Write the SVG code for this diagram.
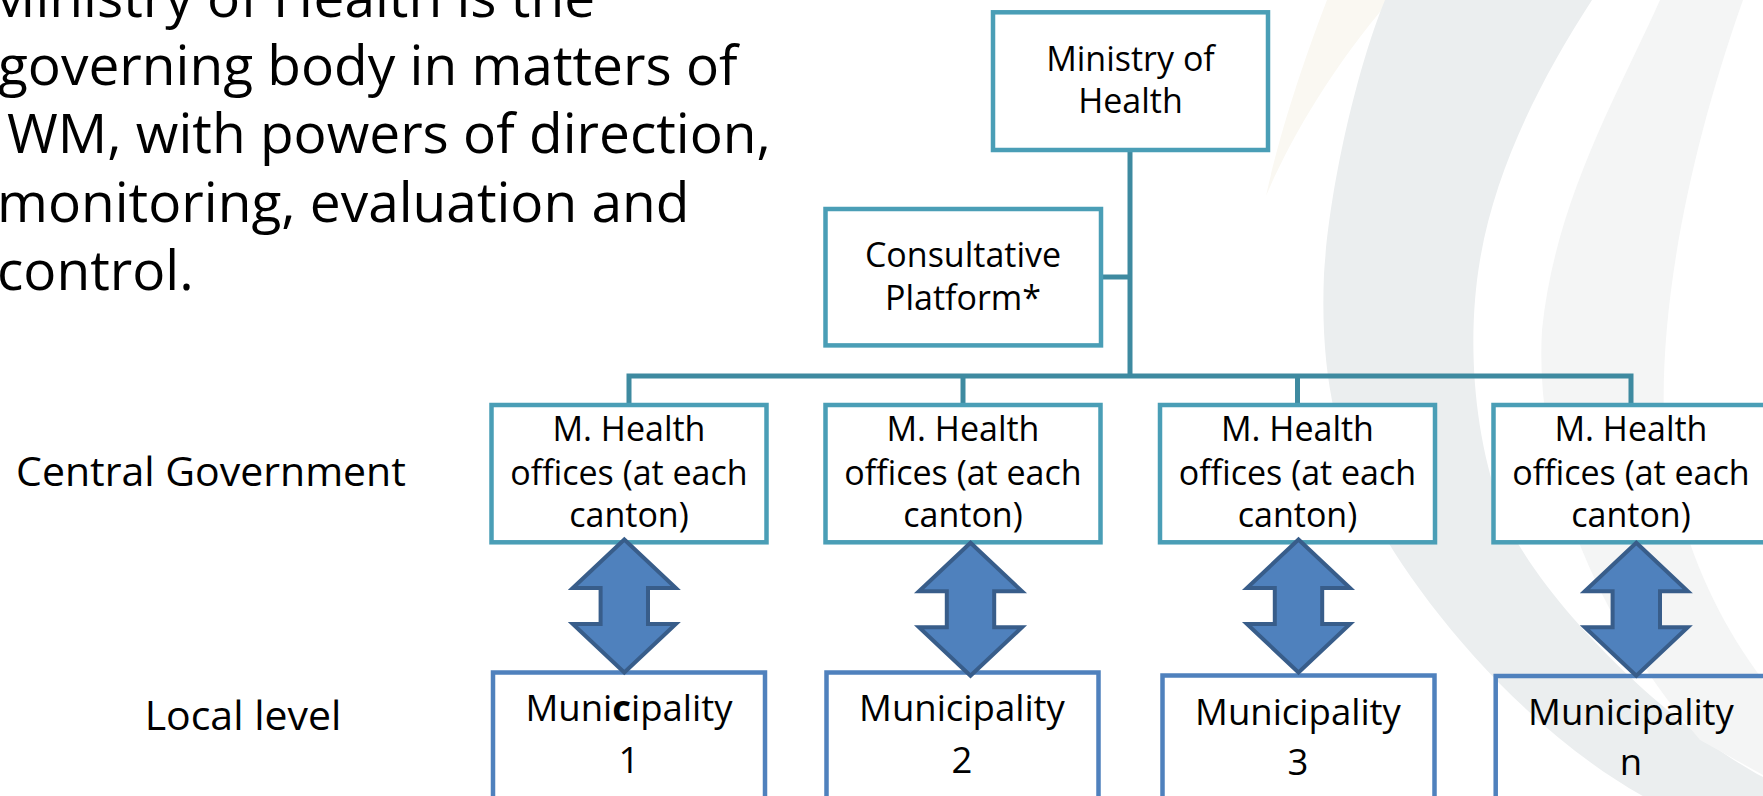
<svg xmlns="http://www.w3.org/2000/svg" width="1763" height="796" viewBox="0 0 1763 796">
<style>
.t{font-family:"Open Sans","Liberation Sans",sans-serif;fill:#000;}
.box{fill:#fff;stroke:#4A9EB6;stroke-width:4.5;}
.mbox{fill:none;stroke:#4F81BD;stroke-width:4.5;}
.conn{fill:none;stroke:#3E8AA0;stroke-width:5;}
.arr{fill:#4F81BD;stroke:#385D8A;stroke-width:4;stroke-linejoin:miter;}
.c34{font-size:34px;text-anchor:middle;}
.c36{font-size:36.5px;text-anchor:middle;}
</style>
<defs>
<path id="dblarrow" d="M0,-66.5 L51.5,-18 L23.7,-18 L23.7,18 L51.5,18 L0,66.5 L-51.5,18 L-23.7,18 L-23.7,-18 L-51.5,-18 Z"/>
</defs>
<rect x="0" y="0" width="1763" height="796" fill="#fff"/>
<g id="background">
<path d="M1327,0 C1300,70 1278,140 1266,196 C1290,140 1330,70 1390,0 Z" fill="#FAF8F2"/>
<path d="M1385,0 C1360,60 1330,180 1324,274 C1320,370 1335,440 1369,508 C1410,590 1520,730 1650,800 L1763,800 L1763,777 C1700,745 1560,630 1505,520 C1470,430 1468,330 1480,260 C1495,170 1540,80 1592,0 Z" fill="#EBEEEF"/>
<path d="M1660,0 C1620,90 1555,200 1542,330 C1535,450 1580,600 1700,740 L1763,775 L1763,680 C1710,610 1672,520 1664,420 C1660,300 1690,150 1743,0 Z" fill="#F4F5F5"/>
</g>
<g id="intro-text" class="t" font-size="55">
<text x="-14" y="16.7">Ministry of Health is the</text>
<text x="-2" y="85">governing body in matters of</text>
<text x="7" y="153.3">WM, with powers of direction,</text>
<text x="-3" y="221.7">monitoring, evaluation and</text>
<text x="-3" y="290">control.</text>
</g>
<g id="level-labels" class="t" font-size="41" text-anchor="middle">
<text x="211" y="486">Central Government</text>
<text x="243" y="730">Local level</text>
</g>
<g id="connectors">
<path class="conn" d="M1130,150 V376"/>
<path class="conn" d="M1101,277 H1130"/>
<path class="conn" d="M629,405 V376 H1631 V405"/>
<path class="conn" d="M963,376 V405"/>
<path class="conn" d="M1297.5,376 V405"/>
</g>
<g id="ministry">
<rect class="box" x="993" y="12.3" width="275" height="137.7"/>
<text class="t c34" x="1130.5" y="70.7">Ministry of</text>
<text class="t c34" x="1130.5" y="113.3">Health</text>
</g>
<g id="consultative">
<rect class="box" x="825.5" y="209" width="275.5" height="136.4"/>
<text class="t c34" x="963" y="266.7">Consultative</text>
<text class="t c34" x="963" y="310">Platform*</text>
</g>
<g id="office1">
<rect class="box" x="491.5" y="405" width="275" height="137.3"/>
<text class="t c34" x="629" y="441">M. Health</text>
<text class="t c34" x="629" y="484.5">offices (at each</text>
<text class="t c34" x="629" y="527">canton)</text>
</g>
<g id="office2">
<rect class="box" x="825.5" y="405" width="275" height="137.3"/>
<text class="t c34" x="963" y="441">M. Health</text>
<text class="t c34" x="963" y="484.5">offices (at each</text>
<text class="t c34" x="963" y="527">canton)</text>
</g>
<g id="office3">
<rect class="box" x="1160" y="405" width="275" height="137.3"/>
<text class="t c34" x="1297.5" y="441">M. Health</text>
<text class="t c34" x="1297.5" y="484.5">offices (at each</text>
<text class="t c34" x="1297.5" y="527">canton)</text>
</g>
<g id="office4">
<rect class="box" x="1493.5" y="405" width="275" height="137.3"/>
<text class="t c34" x="1631" y="441">M. Health</text>
<text class="t c34" x="1631" y="484.5">offices (at each</text>
<text class="t c34" x="1631" y="527">canton)</text>
</g>
<g id="municipality1">
<rect class="mbox" x="493" y="672.5" width="272" height="140"/>
<text class="t c36" x="629" y="720.7">Muni<tspan font-weight="bold">c</tspan>ipality</text>
<text class="t c36" x="629" y="772.7">1</text>
</g>
<g id="municipality2">
<rect class="mbox" x="826.5" y="672.5" width="272" height="140"/>
<text class="t c36" x="962" y="720.7">Municipality</text>
<text class="t c36" x="962" y="772.7">2</text>
</g>
<g id="municipality3">
<rect class="mbox" x="1162.5" y="675.5" width="272" height="140"/>
<text class="t c36" x="1298" y="725">Municipality</text>
<text class="t c36" x="1298" y="775">3</text>
</g>
<g id="municipality4">
<rect class="mbox" x="1495.7" y="676" width="272" height="140"/>
<text class="t c36" x="1631" y="725">Municipality</text>
<text class="t c36" x="1631" y="775">n</text>
</g>
<g id="arrows">
<use href="#dblarrow" class="arr" transform="translate(624.3,606)"/>
<use href="#dblarrow" class="arr" transform="translate(970.5,609.3)"/>
<use href="#dblarrow" class="arr" transform="translate(1298.5,606)"/>
<use href="#dblarrow" class="arr" transform="translate(1636.3,609.3)"/>
</g>
</svg>
